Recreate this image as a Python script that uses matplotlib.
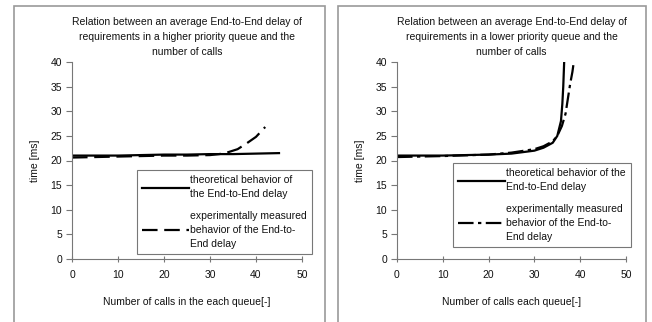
import matplotlib.pyplot as plt
from matplotlib.patches import Rectangle

plt.rcParams['font.family'] = ['Liberation Sans', 'DejaVu Sans']
plt.rcParams['font.size'] = 7.5

# left chart: higher priority queue
hi_theory_x = [0, 5, 10, 15, 20, 25, 30, 35, 40, 45]
hi_theory_y = [21.0, 21.0, 21.0, 21.1, 21.2, 21.2, 21.3, 21.3, 21.4, 21.5]
hi_meas_x = [0, 5, 10, 15, 20, 25, 30, 32, 34, 36, 38, 40, 42]
hi_meas_y = [20.6, 20.7, 20.8, 20.9, 21.0, 21.0, 21.1, 21.3, 21.7, 22.3, 23.5, 24.8, 26.8]

# right chart: lower priority queue
lo_theory_x = [0, 10, 20, 25, 30, 32, 34, 35, 35.8, 36.1, 36.3, 36.5]
lo_theory_y = [21.0, 21.0, 21.2, 21.4, 22.0, 22.6, 23.6, 25.0, 28.0, 31.5, 35.0, 40.0]
lo_meas_x = [0, 10, 20, 25, 30, 32, 34, 35, 36, 36.8, 37.3, 37.8, 38.3, 38.6]
lo_meas_y = [20.7, 20.9, 21.2, 21.6, 22.3, 22.9, 23.9, 25.0, 27.0, 29.5, 32.5, 35.5, 38.0, 40.0]

fig = plt.figure(figsize=(6.52, 3.22), dpi=100)

# panel frames
for x0, w in [(14 / 652, 311 / 652), (338 / 652, 308 / 652)]:
    fig.patches.append(Rectangle((x0, -0.05), w, 1.05 - 6 / 322, transform=fig.transFigure,
                                 fill=False, edgecolor='#9a9a9a', linewidth=1.2))

ax1 = fig.add_axes([72 / 652, 1 - 259 / 322, 230 / 652, 197 / 322])
ax2 = fig.add_axes([397 / 652, 1 - 259 / 322, 229 / 652, 197 / 322])

ax1.plot(hi_theory_x, hi_theory_y, color='black', lw=1.6,
         label='theoretical behavior of\nthe End-to-End delay')
ax1.plot(hi_meas_x, hi_meas_y, color='black', lw=1.6, dashes=(7, 3),
         label='experimentally measured\nbehavior of the End-to-\nEnd delay')

ax2.plot(lo_theory_x, lo_theory_y, color='black', lw=1.6,
         label='theoretical behavior of the\nEnd-to-End delay')
ax2.plot(lo_meas_x, lo_meas_y, color='black', lw=1.6, dashes=(7, 2, 1.5, 2),
         label='experimentally measured\nbehavior of the End-to-\nEnd delay')

titles = ['Relation between an average End-to-End delay of\nrequirements in a higher priority queue and the\nnumber of calls',
          'Relation between an average End-to-End delay of\nrequirements in a lower priority queue and the\nnumber of calls']
xlabels = ['Number of calls in the each queue[-]', 'Number of calls each queue[-]']
legend_pos = [(137 / 652, 1 - 170 / 322), (453 / 652, 1 - 163 / 322)]

for ax, title, xl, lp in zip([ax1, ax2], titles, xlabels, legend_pos):
    ax.set_xlim(0, 50)
    ax.set_ylim(0, 40)
    ax.set_xticks(range(0, 51, 10))
    ax.set_yticks(range(0, 41, 5))
    ax.spines['top'].set_visible(False)
    ax.spines['right'].set_visible(False)
    ax.spines['left'].set_color('#777777')
    ax.spines['bottom'].set_color('#777777')
    ax.tick_params(axis='y', direction='out', length=4, color='#777777', pad=3, labelcolor='#111111')
    ax.tick_params(axis='x', direction='inout', length=4, color='#777777', pad=6, labelcolor='#111111')
    ax.set_title(title, fontsize=7.5, linespacing=1.6, pad=5, color='#111111')
    ax.set_xlabel(xl, labelpad=12, color='#111111')
    ax.set_ylabel('time [ms]', labelpad=8, color='#111111')
    leg = ax.legend(loc='upper left', bbox_to_anchor=lp, bbox_transform=fig.transFigure,
                    fancybox=False, edgecolor='#777777', framealpha=1, handlelength=4.5,
                    handletextpad=0.1, borderpad=0.5, labelspacing=1.1, borderaxespad=0)
    leg.get_frame().set_linewidth(0.8)
    for t in leg.get_texts():
        t.set_linespacing(1.5)
        t.set_color('#111111')

fig.savefig('out.png', dpi=100)
